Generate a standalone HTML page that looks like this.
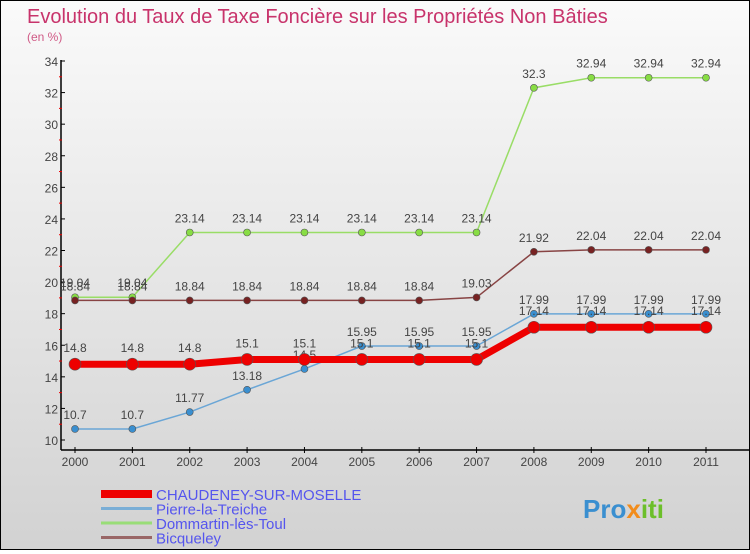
<!DOCTYPE html>
<html><head><meta charset="utf-8"><style>
body{margin:0;width:750px;height:550px;overflow:hidden;font-family:"Liberation Sans",sans-serif}
#c{position:absolute;left:0;top:0;width:748px;height:548px;border:1px solid #000;background:linear-gradient(#fafafa,#d2d2d2)}
</style></head><body>
<div id="c">
<svg id="s" width="748" height="548"></svg>
</div>
<script>
const years=["2000","2001","2002","2003","2004","2005","2006","2007","2008","2009","2010","2011"];
const yTicks=[10,12,14,16,18,20,22,24,26,28,30,32,34];
const chaudeney=[14.8,14.8,14.8,15.1,15.1,15.1,15.1,15.1,17.14,17.14,17.14,17.14];
const pierre=[10.7,10.7,11.77,13.18,14.5,15.95,15.95,15.95,17.99,17.99,17.99,17.99];
const dommartin=[19.04,19.04,23.14,23.14,23.14,23.14,23.14,23.14,32.3,32.94,32.94,32.94];
const bicqueley=[18.84,18.84,18.84,18.84,18.84,18.84,18.84,19.03,21.92,22.04,22.04,22.04];
const seriesNames=["CHAUDENEY-SUR-MOSELLE","Pierre-la-Treiche","Dommartin-lès-Toul","Bicqueley"];
const NS="http://www.w3.org/2000/svg",s=document.getElementById('s');
const X=i=>74+i*(705-74)/(years.length-1);
const Y=v=>439-(v-10)*(379/24);
function el(t,a,p){const e=document.createElementNS(NS,t);for(const k in a)e.setAttribute(k,a[k]);(p||s).appendChild(e);return e;}
function tx(x,y,t,a){const e=el('text',Object.assign({x:x,y:y},a));e.textContent=t;return e;}
let t=tx(26,22,"Evolution du Taux de Taxe Foncière sur les Propriétés Non Bâties",{fill:"#c8336b","font-size":20});

t=tx(26,40,"(en %)",{fill:"#d05a86","font-size":12});

// axes
let a=el('line',{x1:60,y1:59,x2:60,y2:449,stroke:"#000","stroke-width":1.5});

a=el('line',{x1:60,y1:449,x2:748,y2:449,stroke:"#000","stroke-width":1.5});

yTicks.forEach((v,i)=>{
 el('line',{x1:60,x2:64,y1:Y(v),y2:Y(v),stroke:"#000"});
 if(i<yTicks.length-1)el('line',{x1:58,x2:61,y1:Y(v+1),y2:Y(v+1),stroke:"#e00"});
 const l=tx(57,Y(v)+5,String(v),{"text-anchor":"end","font-size":12,fill:"#444"});
 
});
years.forEach((y,i)=>{
 el('line',{x1:X(i),x2:X(i),y1:446,y2:452,stroke:"#000"});
 const l=tx(X(i),465,y,{"text-anchor":"middle","font-size":12,fill:"#444"});
 
});
function series(d,col,dot,w,r,name,lblDy){
 const g=el('g',{});
 
 el('polyline',{points:d.map((v,i)=>X(i)+","+Y(v)).join(" "),fill:"none",stroke:col,"stroke-width":w},g);
 d.forEach((v,i)=>{
  const c=el('circle',{cx:X(i),cy:Y(v),r:r,fill:dot,stroke:"#555","stroke-width":0.6},g);
  
  const l=tx(X(i),Y(v)+lblDy,String(v),{"text-anchor":"middle","font-size":12,fill:"#444"},g);
  
 });
}
series(dommartin,"#99dd66","#88dd44",1.5,3.5,"series-dommartin",-10);
series(bicqueley,"#884444","#772222",1.5,3.5,"series-bicqueley",-10);
series(pierre,"#6aa6d6","#3a8fd0",1.5,3.5,"series-pierre",-10);
series(chaudeney,"#ee0000","#ee0000",7,6,"series-chaudeney",-12);
// legend
const lc=["#ee0000","#7aaed6","#99dd77","#996666"],lw=[8,3,3,3];
seriesNames.forEach((n,i)=>{
 const g=el('g',{});
 
 const y=493+i*14.5;
 el('line',{x1:100,x2:151,y1:y,y2:y,stroke:lc[i],"stroke-width":lw[i]},g);
 tx(155,y+6,n,{"font-size":15,fill:"#5555ee"},g);
});
const lg=el('text',{x:582,y:517,"font-size":26,"font-weight":"bold",fill:"#3a8fd0"});

lg.innerHTML='Pro<tspan fill="#f28c1b">x</tspan><tspan fill="#6cbf2a">iti</tspan>';
</script>
</body></html>
